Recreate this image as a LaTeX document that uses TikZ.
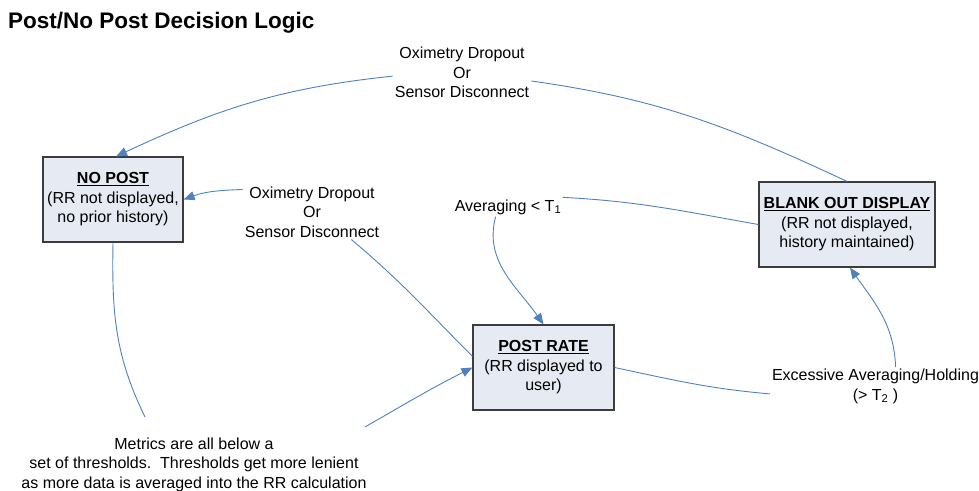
\documentclass[tikz,border=0pt]{standalone}
\usepackage{fontspec}
\setmainfont{Liberation Sans}
\usepackage{tikz}
\usetikzlibrary{arrows.meta,positioning}
\definecolor{linkblue}{RGB}{79,129,189}
\definecolor{boxfill}{RGB}{230,234,243}
\definecolor{boxline}{RGB}{60,60,60}

\begin{document}
\begin{tikzpicture}[x=1pt,y=1pt,
  state/.style={
    rectangle, draw=boxline, fill=boxfill, line width=1.2pt,
    minimum height=85pt, inner xsep=2pt, align=center,
    font=\fontsize{16}{19.5}\selectfont
  },
  lbl/.style={align=center, inner sep=2pt, font=\fontsize{16}{19.5}\selectfont},
  link/.style={draw=linkblue, line width=0.9pt},
  arr/.style={link, -{Triangle[length=11pt,width=9pt]}}
]
\useasboundingbox (0,0) rectangle (979,-490);

% Title
\node[anchor=base west, inner sep=0pt, font=\fontsize{22.5}{27}\selectfont\bfseries]
  (title) at (8,-28) {Post/No Post Decision Logic};

% States
\node[state, minimum width=140pt] (nopost) at (113,-199.5)
  {\underline{\textbf{NO POST}}\\(RR not displayed,\\no prior history)};
\node[state, minimum width=141pt] (postrate) at (543.5,-367.5)
  {\underline{\textbf{POST RATE}}\\(RR displayed to\\user)};
\node[state, minimum width=176pt] (blank) at (847,-224.5)
  {\underline{\textbf{BLANK OUT DISPLAY}}\\(RR not displayed,\\history maintained)};

% Transition labels
\node[lbl] (toplbl) at (462,-72.5) {Oximetry Dropout\\Or\\Sensor Disconnect};
\node[lbl] (midlbl) at (312,-212) {Oximetry Dropout\\Or\\Sensor Disconnect};
\node[lbl] (avglbl) at (508,-207) {Averaging < T\textsubscript{1}};
\node[lbl] (exlbl) at (875.5,-386.5) {Excessive Averaging/Holding\\(> T\textsubscript{2} )};
\node[lbl] (metrics) at (194,-464.5) {Metrics are all below a\\
  set of thresholds.\ \ Thresholds get more lenient\\
  as more data is averaged into the RR calculation};
\coordinate (mleft) at (145,-417);
\coordinate (mright) at (365,-427);

% Transitions
\draw[link] (blank.north) to[out=155,in=-8] (toplbl.-7);
\draw[arr] (toplbl.183) to[out=186,in=25] (nopost.86);
\draw[link] (midlbl.-35) to[out=-40,in=135] (postrate.171);
\draw[arr] (midlbl.162) to[out=182,in=20] (nopost.east);
\draw[link] (blank.west) to[out=170,in=-3] (avglbl.10);
\draw[arr] (avglbl.-142) to[out=-105,in=125] (postrate.north);
\draw[link] (postrate.east) to[out=-12,in=175] (exlbl.184);
\draw[arr] (exlbl.44) to[out=92,in=-55] (blank.-86);
\draw[link] (nopost.south) to[out=-91,in=116] (mleft);
\draw[arr] (mright) to[out=30,in=-153] (postrate.west);

\end{tikzpicture}
\end{document}
